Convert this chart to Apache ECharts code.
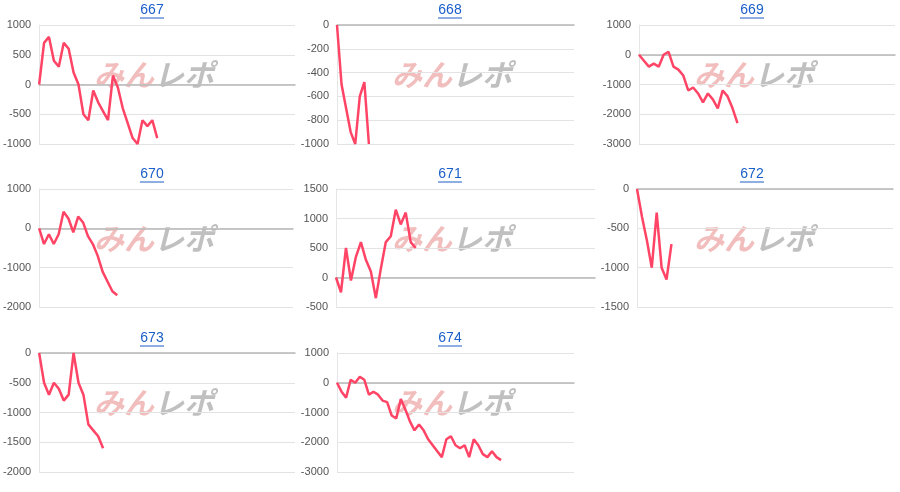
<!DOCTYPE html>
<html>
<head>
<meta charset="utf-8">
<script src="https://cdn.jsdelivr.net/npm/echarts@6/dist/echarts.min.js"></script>
<style>html,body{margin:0;padding:0;background:#fff}#main{width:900px;height:492px}</style>
</head>
<body>
<div id="main"></div>
<script>
var names = ['667', '668', '669', '670', '671', '672', '673', '674'];
var data667 = [0,700,800,400,300,700,600,200,0,-500,-600,-100,-300,-450,-600,150,-50,-400,-650,-900,-1000,-600,-700,-600,-900];
var data668 = [0,-500,-700,-900,-1000,-600,-480,-1000];
var data669 = [0,-200,-400,-300,-400,0,100,-400,-500,-700,-1200,-1100,-1300,-1600,-1300,-1500,-1800,-1200,-1400,-1800,-2300];
var data670 = [0,-400,-150,-400,-150,420,250,-100,300,150,-200,-400,-700,-1100,-1350,-1600,-1700];
var data671 = [0,-250,500,-50,350,600,300,100,-350,150,600,700,1150,900,1100,600,500];
var data672 = [0,-350,-650,-1000,-300,-1000,-1150,-700];
var data673 = [0,-500,-700,-500,-600,-800,-700,0,-500,-700,-1200,-1300,-1400,-1600];
var data674 = [0,-300,-500,100,0,200,100,-400,-300,-400,-600,-650,-1100,-1200,-550,-900,-1300,-1600,-1400,-1600,-1900,-2100,-2300,-2500,-1900,-1800,-2100,-2200,-2100,-2500,-1900,-2100,-2400,-2500,-2300,-2500,-2600];
var allData = [data667, data668, data669, data670, data671, data672, data673, data674];
var yMin = [-1000, -1000, -3000, -2000, -500, -1500, -2000, -3000];
var yMax = [1000, 0, 1000, 1000, 1500, 0, 0, 1000];
var yStep = [500, 200, 1000, 1000, 500, 500, 500, 1000];
var slots = 52;

// 配置位置
var boxes = [
    [38, 25, 295, 144], [337, 25, 574, 144], [639, 25, 895, 144],
    [37, 189, 293, 307], [336, 189, 595, 307], [637, 189, 893, 307],
    [39, 353, 295, 472], [337, 353, 574, 472]
];
var titleY = [10, 10, 10, 174, 174, 174, 338, 338];
var colCenter = [152, 450, 752];

var myChart = echarts.init(document.getElementById('main'));
var grids = [], xAxes = [], yAxes = [], series = [], graphics = [];

names.forEach(function (n, i) {
    var b = boxes[i];
    var cx = colCenter[i % 3];
    grids.push({ left: b[0], top: b[1], width: b[2] - b[0], height: b[3] - b[1] });
    xAxes.push({
        type: 'value', gridIndex: i, min: 0, max: slots,
        axisLabel: { show: false }, axisTick: { show: false }, splitLine: { show: false },
        axisLine: { onZero: true, lineStyle: { color: '#b8b8b8', width: 1.5 } }
    });
    yAxes.push({
        type: 'value', gridIndex: i, min: yMin[i], max: yMax[i], interval: yStep[i],
        axisLine: { show: true, lineStyle: { color: '#e6e6e6' } },
        axisTick: { show: false },
        axisLabel: { color: '#555', fontSize: 11, fontFamily: 'Arial', margin: 8,
            formatter: function (v) { return String(v); } },
        splitLine: { lineStyle: { color: '#e3e3e3' } }
    });
    series.push({
        type: 'line', xAxisIndex: i, yAxisIndex: i, showSymbol: false,
        lineStyle: { color: '#ff4466', width: 2.5 }, clip: true,
        data: allData[i].map(function (v, k) { return [k, v]; })
    });
    graphics.push({
        type: 'text', x: cx, y: titleY[i],
        style: { text: n, fill: '#1a5fc8', fontSize: 14, fontFamily: 'Arial',
            align: 'center', verticalAlign: 'middle' }
    });
    graphics.push({
        type: 'line', shape: { x1: cx - 12, y1: titleY[i] + 8, x2: cx + 12, y2: titleY[i] + 8 },
        style: { stroke: '#1a5fc8', lineWidth: 1 }
    });
    // 水印
    graphics.push({
        type: 'text', left: cx - 58, top: b[1] + 35, z: -1,
        style: {
            text: '{a|みん}{b|レポ}',
            rich: {
                a: { fontSize: 30, fontWeight: 'bold', fontStyle: 'italic', fill: 'rgba(220,90,90,0.4)', fontFamily: 'Noto Sans CJK JP' },
                b: { fontSize: 30, fontWeight: 'bold', fontStyle: 'italic', fill: 'rgba(140,140,140,0.55)', fontFamily: 'Noto Sans CJK JP' }
            }
        }
    });
});

option = {
    animation: false,
    grid: grids,
    xAxis: xAxes,
    yAxis: yAxes,
    series: series,
    graphic: graphics
};

myChart.setOption(option);
</script>
</body>
</html>
